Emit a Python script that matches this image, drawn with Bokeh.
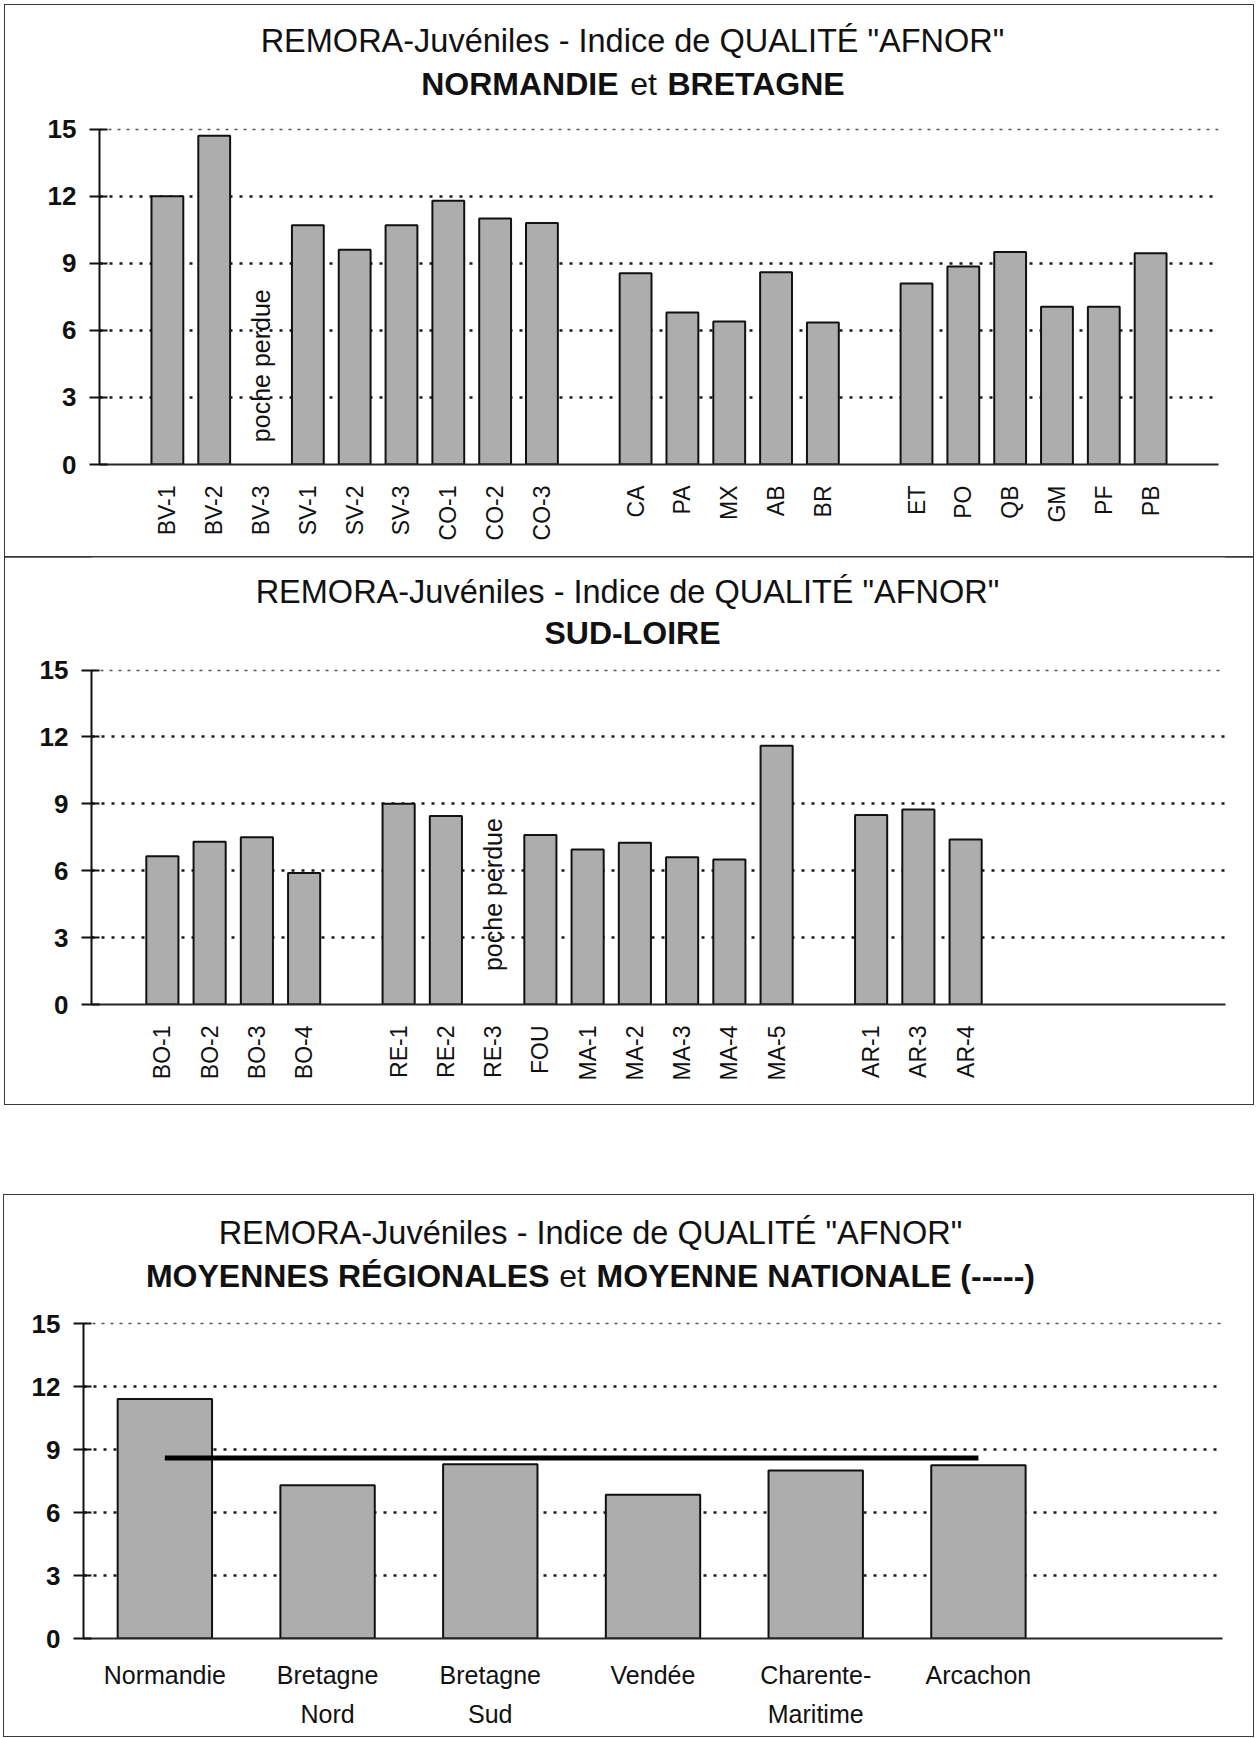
import math

from bokeh.core.properties import value
from bokeh.embed import file_html
from bokeh.layouts import column, row
from bokeh.models import FixedTicker, Grid, Range1d, Spacer
from bokeh.plotting import figure
from bokeh.resources import INLINE

# ---------------------------------------------------------------------------
# Data: AFNOR quality index per station (None = lost bag, no measurement)
# ---------------------------------------------------------------------------
nb_sites = [
    ["BV-1", "BV-2", "BV-3", "SV-1", "SV-2", "SV-3", "CO-1", "CO-2", "CO-3"],
    ["CA", "PA", "MX", "AB", "BR"],
    ["ET", "PO", "QB", "GM", "PF", "PB"],
]
nb_values = [
    [12.0, 14.7, None, 10.7, 9.6, 10.7, 11.8, 11.0, 10.8],
    [8.55, 6.8, 6.4, 8.6, 6.35],
    [8.1, 8.85, 9.5, 7.05, 7.05, 9.45],
]

sl_sites = [
    ["BO-1", "BO-2", "BO-3", "BO-4"],
    ["RE-1", "RE-2", "RE-3", "FOU", "MA-1", "MA-2", "MA-3", "MA-4", "MA-5"],
    ["AR-1", "AR-3", "AR-4"],
]
sl_values = [
    [6.65, 7.3, 7.5, 5.9],
    [9.0, 8.45, None, 7.6, 6.95, 7.25, 6.6, 6.5, 11.6],
    [8.5, 8.75, 7.4],
]

regions = ["Normandie", "Bretagne\nNord", "Bretagne\nSud", "Vendée",
           "Charente-\nMaritime", "Arcachon"]
region_means = [11.4, 7.3, 8.3, 6.85, 8.0, 8.25]
national_mean = 8.6

y_ticks = [0, 3, 6, 9, 12, 15]
missing_note = "poche perdue"

# ---------------------------------------------------------------------------
# Styling
# ---------------------------------------------------------------------------
FONT = "Liberation Sans"
INK = "#111111"
BAR_FILL = "#adadad"
TITLE_SIZE = "32.5px"
SUB_SIZE = "32px"
MAIN_TITLE = 'REMORA-Juvéniles - Indice de QUALITÉ "AFNOR"'


def place_groups(groups, values):
    """Lay the station groups side by side with one empty slot between groups."""
    xs, tops, ticks, names, missing = [], [], [], [], []
    pos = 0
    for grp, vals in zip(groups, values):
        for name, v in zip(grp, vals):
            ticks.append(pos)
            names.append(name)
            if v is None:
                missing.append(pos)
            else:
                xs.append(pos)
                tops.append(v)
            pos += 1
        pos += 1
    return xs, tops, ticks, names, missing


class Panel:
    """One framed chart box. The plotting frame reaches the top of the box so
    that the two-line heading can be drawn inside it, above the 0-15 scale."""

    def __init__(self, width, height, x_range, left, right, bottom, px_per_unit):
        self.left = left
        self.x_start = x_range[0]
        frame_h = height - bottom
        y_end = frame_h / px_per_unit
        self.y0 = frame_h  # pixel row of value 0, from the top of the box
        p = figure(width=width, height=height, title=None,
                   x_range=Range1d(*x_range), y_range=Range1d(0, y_end),
                   output_backend="svg", toolbar_location=None, tools="",
                   min_border_left=left, min_border_right=right,
                   min_border_top=0, min_border_bottom=bottom)
        p.outline_line_color = None
        p.background_fill_color = "white"
        p.border_fill_color = "white"
        p.styles = {"outline": "1.5px solid #3a3a3a"}

        # value axis, limited to 0-15
        ya = p.yaxis[0]
        ya.ticker = FixedTicker(ticks=y_ticks)
        ya.bounds = (0, 15)
        ya.axis_line_color = INK
        ya.axis_line_width = 2
        ya.major_tick_line_color = INK
        ya.major_tick_line_width = 2
        ya.major_tick_out = 10
        ya.major_tick_in = 8
        ya.minor_tick_line_color = None
        ya.major_label_standoff = 13
        ya.major_label_text_font = FONT
        ya.major_label_text_font_style = "bold"
        ya.major_label_text_font_size = "26px"
        ya.major_label_text_color = INK

        # dotted horizontal grid
        p.xgrid[0].visible = False
        g = p.ygrid[0]
        g.ticker = FixedTicker(ticks=[3, 6, 9, 12])
        g.grid_line_color = "#1a1a1a"
        g.grid_line_width = 2.4
        g.grid_line_dash = "3 7"
        p.add_layout(Grid(dimension=1, ticker=FixedTicker(ticks=[15]),
                          grid_line_color="#555555", grid_line_width=1.6,
                          grid_line_dash="3 6"))

        # category axis
        xa = p.xaxis[0]
        xa.axis_line_color = "#262626"
        xa.axis_line_width = 2
        xa.major_tick_line_color = None
        xa.minor_tick_line_color = None
        xa.major_tick_out = 0
        xa.major_tick_in = 0
        xa.major_label_text_font = FONT
        xa.major_label_text_color = INK
        self.p = p

    def text(self, x, y, txt, bold=False, align="center", size=TITLE_SIZE):
        """Heading text positioned in pixels from the box's top-left corner."""
        self.p.text(x=[self.x_start], y=[0], text=[txt],
                    x_offset=x - self.left, y_offset=y - self.y0,
                    text_align=align, text_baseline="alphabetic",
                    text_font=value(FONT), text_font_size=size,
                    text_font_style="bold" if bold else "normal",
                    text_color=INK)


def station_panel(width, height, x_range, left, right, bottom, ppu,
                  groups, values, note_y):
    panel = Panel(width, height, x_range, left, right, bottom, ppu)
    p = panel.p
    xs, tops, ticks, names, missing = place_groups(groups, values)
    p.vbar(x=xs, top=tops, bottom=0, width=0.68, fill_color=BAR_FILL,
           line_color=INK, line_width=2)
    p.text(x=missing, y=[note_y] * len(missing), text=[missing_note] * len(missing),
           angle=math.pi / 2, text_align="left", text_baseline="middle",
           text_font=value(FONT), text_font_size="25px", text_color=INK)
    xa = p.xaxis[0]
    xa.ticker = FixedTicker(ticks=ticks)
    xa.major_label_overrides = {t: n for t, n in zip(ticks, names)}
    xa.major_label_orientation = math.pi / 2
    xa.major_label_standoff = 21
    xa.major_label_text_font_size = "23px"
    return panel


# --- Normandie et Bretagne (box top at page y=5) -------------------------
pan1 = station_panel(1248, 552, (-1.45, 22.45), 94, 35, 93, 22.36,
                     nb_sites, nb_values, note_y=1.0)
pan1.text(627, 35, MAIN_TITLE)
pan1.text(613, 78, "NORMANDIE", bold=True, align="right", size=SUB_SIZE)
pan1.text(638, 78, "et", size=SUB_SIZE)
pan1.text(662, 78, "BRETAGNE", bold=True, align="left", size=SUB_SIZE)

# --- Sud-Loire (box top at page y=557) -----------------------------------
pan2 = station_panel(1248, 547, (-1.5, 22.5), 86, 28, 100, 22.3,
                     sl_sites, sl_values, note_y=1.5)
pan2.text(622, 34, MAIN_TITLE)
pan2.text(627, 75, "SUD-LOIRE", bold=True, size=SUB_SIZE)

# --- Regional means and national mean (box top at page y=1195) -----------
pan3 = Panel(1249, 541, (-0.5, 6.5), 79, 31, 98, 21.0)
p3 = pan3.p
region_x = list(range(len(regions)))
p3.vbar(x=region_x, top=region_means, bottom=0, width=0.58,
        fill_color=BAR_FILL, line_color=INK, line_width=2)
p3.line(x=[region_x[0], region_x[-1]], y=[national_mean, national_mean],
        line_color="#000000", line_width=5)
xa3 = p3.xaxis[0]
xa3.ticker = FixedTicker(ticks=region_x)
xa3.major_label_overrides = {x: r for x, r in zip(region_x, regions)}
xa3.major_label_standoff = 22
xa3.major_label_text_font_size = "25px"
xa3.major_label_text_line_height = 1.42
pan3.text(586, 37, MAIN_TITLE)
pan3.text(545, 80, "MOYENNES RÉGIONALES", bold=True, align="right", size=SUB_SIZE)
pan3.text(568, 80, "et", size=SUB_SIZE)
pan3.text(592, 80, "MOYENNE NATIONALE (-----)", bold=True, align="left",
          size=SUB_SIZE)

page = column(
    Spacer(height=5),
    row(Spacer(width=5), pan1.p),
    row(Spacer(width=5), pan2.p),
    Spacer(height=91),
    row(Spacer(width=4), p3),
)

open("out.html", "w").write(file_html(page, INLINE))
